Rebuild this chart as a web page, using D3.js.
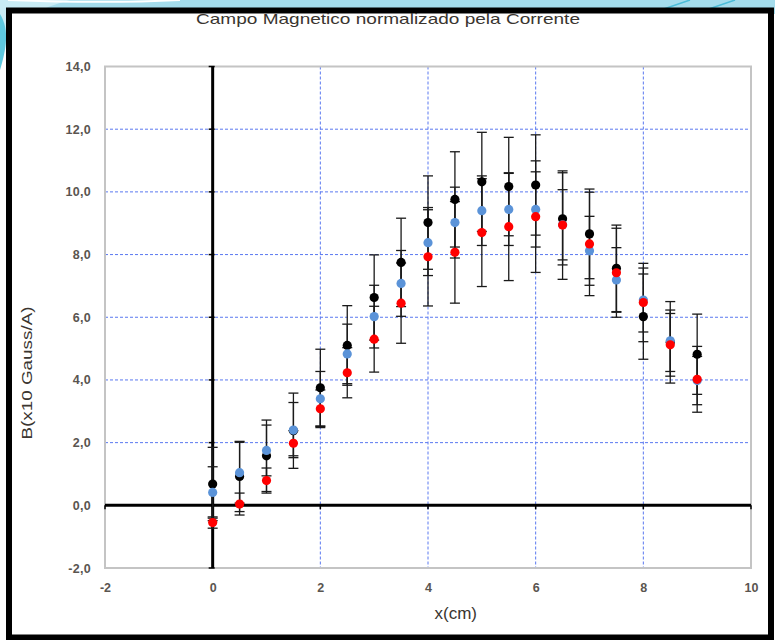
<!DOCTYPE html>
<html>
<head>
<meta charset="utf-8">
<script src="https://cdn.jsdelivr.net/npm/d3@7"></script>
<style>
  html, body { margin: 0; padding: 0; background: #fff; }
  svg { display: block; }
  text { font-family: "Liberation Sans", Arial, sans-serif; }
</style>
</head>
<body>
<svg id="chart" width="775" height="640"></svg>
<script>
// Positions along the probe (cm)
const positions = [0, 0.5, 1, 1.5, 2, 2.5, 3, 3.5, 4, 4.5, 5, 5.5, 6, 6.5, 7, 7.5, 8, 8.5, 9];

// Field normalised by current, B (x10 Gauss/A), for the three runs
const serieBlack = [0.68, 0.92, 1.58, 2.38, 3.75, 5.10, 6.63, 7.75, 9.02, 9.76, 10.32, 10.17, 10.22, 9.14, 8.66, 7.56, 6.02, 5.20, 4.82];
const serieBlue  = [0.41, 1.04, 1.75, 2.40, 3.40, 4.83, 6.02, 7.08, 8.38, 9.02, 9.40, 9.44, 9.44, 8.95, 8.12, 7.19, 6.55, 5.25, 3.98];
const serieRed   = [-0.55, 0.04, 0.79, 1.98, 3.08, 4.23, 5.30, 6.45, 7.93, 8.07, 8.70, 8.89, 9.21, 8.94, 8.34, 7.42, 6.47, 5.12, 4.02];

// Uncertainties (half-width of each error bar)
const errBlack = [1.17, 1.12, 1.14, 1.20, 1.23, 1.27, 1.36, 1.41, 1.49, 1.52, 1.58, 1.57, 1.60, 1.47, 1.43, 1.38, 1.36, 1.30, 1.28];
const errBlue  = [0.82, 0.97, 0.81, 0.88, 0.87, 0.95, 1.00, 1.05, 1.05, 1.13, 1.11, 1.15, 1.20, 1.12, 1.10, 1.03, 1.02, 0.98, 0.77];
const errRed   = [0.18, 0.35, 0.40, 0.40, 0.60, 0.80, 1.05, 1.28, 1.57, 1.62, 1.72, 1.72, 1.78, 1.73, 1.65, 1.42, 1.25, 1.00, 1.05];

// Axis ticks
const xTicks = [-2, 0, 2, 4, 6, 8, 10];
const yTicks = [-2, 0, 2, 4, 6, 8, 10, 12, 14];

const titleText = "Campo  Magnetico  normalizado  pela  Corrente";
const xLabel = "x(cm)";
const yLabel = "B(x10 Gauss/A)";

const series = [
  { values: serieBlack, errors: errBlack, color: "#000000" },
  { values: serieBlue,  errors: errBlue,  color: "#5b93d8" },
  { values: serieRed,   errors: errRed,   color: "#ff0000" }
];

const svg = d3.select("#chart");
const W = 775, H = 640;

// --- slide background with the cyan swoosh ---
const bg = svg.append("g");
bg.append("rect").attr("width", W).attr("height", H).attr("fill", "#ffffff");
bg.append("rect").attr("x", 0).attr("y", 0).attr("width", W).attr("height", 14).attr("fill", "#a4dcec");
bg.append("path")
  .attr("d", "M0,0 L70,0 C40,8 18,20 0,40 Z")
  .attr("fill", "#c9ecf5");
bg.append("path")
  .attr("d", "M0,14 C10,30 6,50 0,70 L0,14 Z")
  .attr("fill", "#5ec8df");
bg.append("path")
  .attr("d", "M8,0 C60,2 120,3 180,0")
  .attr("fill", "none").attr("stroke", "#ffffff").attr("stroke-width", 2);
bg.append("path")
  .attr("d", "M655,12 L690,0 M700,12 L735,0")
  .attr("fill", "none").attr("stroke", "#4bbcd8").attr("stroke-width", 1.5);

// --- black frame of the chart object ---
svg.append("rect")
  .attr("x", 9).attr("y", 10.5).attr("width", 762).attr("height", 627)
  .attr("fill", "#ffffff").attr("stroke", "#000000").attr("stroke-width", 6);

// clip for everything drawn inside the frame
svg.append("defs").append("clipPath").attr("id", "inner")
  .append("rect").attr("x", 12).attr("y", 13).attr("width", 756).attr("height", 621);

const g = svg.append("g").attr("clip-path", "url(#inner)");

// --- scales ---
const x = d3.scaleLinear().domain([-2, 10]).range([105, 751]);
const y = d3.scaleLinear().domain([-2, 14]).range([568, 66.5]);

// comma decimals and a plain hyphen for negatives
const locale = d3.formatLocale({ decimal: ",", thousands: ".", grouping: [3], currency: ["", ""], minus: "-" });
const fmtY = locale.format(".1f");
const fmtX = locale.format("d");

// title (partly hidden under the frame's top edge)
g.append("text")
  .attr("x", 388).attr("y", 23.5)
  .attr("text-anchor", "middle")
  .attr("font-size", 15)
  .attr("fill", "#3a3530")
  .attr("textLength", 384).attr("lengthAdjust", "spacingAndGlyphs")
  .text(titleText);

// --- grid ---
const grid = g.append("g");
grid.selectAll("line.gx")
  .data(xTicks.filter(t => t !== -2 && t !== 0 && t !== 10))
  .join("line")
  .attr("x1", d => x(d)).attr("x2", d => x(d))
  .attr("y1", y(14)).attr("y2", y(-2))
  .attr("stroke", "#5a78f0").attr("stroke-width", 1).attr("stroke-dasharray", "3,2");
grid.selectAll("line.gy")
  .data(yTicks.filter(t => t !== -2 && t !== 0 && t !== 14))
  .join("line")
  .attr("x1", x(-2)).attr("x2", x(10))
  .attr("y1", d => y(d)).attr("y2", d => y(d))
  .attr("stroke", "#5a78f0").attr("stroke-width", 1).attr("stroke-dasharray", "3,2");

// plot area border
g.append("rect")
  .attr("x", x(-2)).attr("y", y(14))
  .attr("width", x(10) - x(-2)).attr("height", y(-2) - y(14))
  .attr("fill", "none").attr("stroke", "#c4c4c4").attr("stroke-width", 2);

// --- tick labels via d3 axes ---
const yAxis = d3.axisLeft(y).tickValues(yTicks).tickSize(0).tickPadding(14).tickFormat(fmtY);
const gy = g.append("g").attr("transform", `translate(${x(-2)},0)`).call(yAxis);
gy.select(".domain").remove();
gy.selectAll("text")
  .attr("font-family", "Liberation Sans, Arial, sans-serif")
  .attr("font-size", 12.5).attr("font-weight", "bold").attr("fill", "#5a5550")
  .attr("letter-spacing", 0.3);

const xAxis = d3.axisBottom(x).tickValues(xTicks).tickSize(0).tickPadding(15).tickFormat(fmtX);
const gx = g.append("g").attr("transform", `translate(0,${y(-2)})`).call(xAxis);
gx.select(".domain").remove();
gx.selectAll("text")
  .attr("font-family", "Liberation Sans, Arial, sans-serif")
  .attr("font-size", 12.5).attr("font-weight", "bold").attr("fill", "#5a5550");

// axis titles
g.append("text")
  .attr("x", 477).attr("y", 619)
  .attr("text-anchor", "end")
  .attr("font-size", 17).attr("fill", "#3a3530")
  .text(xLabel);
g.append("text")
  .attr("transform", `translate(32,${373}) rotate(-90)`)
  .attr("text-anchor", "middle")
  .attr("font-size", 15.5).attr("fill", "#3a3530")
  .attr("textLength", 133).attr("lengthAdjust", "spacingAndGlyphs")
  .text(yLabel);

// --- black zero axes with small ticks ---
const axes = g.append("g");
axes.append("line")
  .attr("x1", x(0)).attr("x2", x(0)).attr("y1", y(14)).attr("y2", y(-2))
  .attr("stroke", "#000").attr("stroke-width", 3);
axes.append("line")
  .attr("x1", x(-2)).attr("x2", x(10)).attr("y1", y(0)).attr("y2", y(0))
  .attr("stroke", "#000").attr("stroke-width", 3);
axes.selectAll("line.ty").data(yTicks).join("line")
  .attr("x1", x(0) - 4).attr("x2", x(0) + 2)
  .attr("y1", d => y(d)).attr("y2", d => y(d))
  .attr("stroke", "#000").attr("stroke-width", 1.5);
axes.selectAll("line.tx").data(xTicks).join("line")
  .attr("x1", d => x(d)).attr("x2", d => x(d))
  .attr("y1", y(0)).attr("y2", y(0) + 4)
  .attr("stroke", "#000").attr("stroke-width", 1.5);

// --- error bars ---
const capHalf = 5;
const eb = g.append("g");
series.forEach(s => {
  const pts = positions.map((p, i) => ({ p, v: s.values[i], e: s.errors[i] }));
  const grp = eb.append("g").attr("stroke", "#1a1a1a").attr("stroke-width", 1.3).attr("fill", "none");
  grp.selectAll("line.stem").data(pts).join("line")
    .attr("x1", d => x(d.p)).attr("x2", d => x(d.p))
    .attr("y1", d => y(d.v - d.e)).attr("y2", d => y(d.v + d.e));
  grp.selectAll("line.capTop").data(pts).join("line")
    .attr("x1", d => x(d.p) - capHalf).attr("x2", d => x(d.p) + capHalf)
    .attr("y1", d => y(d.v + d.e)).attr("y2", d => y(d.v + d.e));
  grp.selectAll("line.capBot").data(pts).join("line")
    .attr("x1", d => x(d.p) - capHalf).attr("x2", d => x(d.p) + capHalf)
    .attr("y1", d => y(d.v - d.e)).attr("y2", d => y(d.v - d.e));
});

// --- markers ---
const mk = g.append("g");
series.forEach(s => {
  mk.append("g").selectAll("circle")
    .data(positions.map((p, i) => ({ p, v: s.values[i] })))
    .join("circle")
    .attr("cx", d => x(d.p)).attr("cy", d => y(d.v))
    .attr("r", 4.6)
    .attr("fill", s.color);
});
</script>
</body>
</html>
